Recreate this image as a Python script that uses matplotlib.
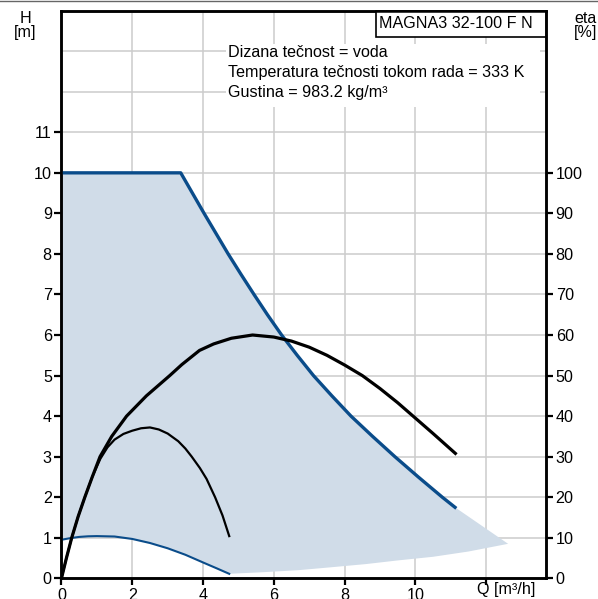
import matplotlib
matplotlib.use("Agg")
import matplotlib.pyplot as plt
from matplotlib.patches import Rectangle
from matplotlib.lines import Line2D

plt.rcParams['font.family'] = ['Liberation Sans', 'DejaVu Sans']

# max speed curve H(Q)
q_max = [0, 3.37, 3.70, 4.03, 4.37, 4.71, 5.07, 5.44, 5.82, 6.22, 6.66, 7.12,
         7.64, 8.18, 8.79, 9.42, 10.08, 10.76, 11.12]
h_max = [10, 10, 9.5, 9, 8.5, 8, 7.5, 7, 6.5, 6, 5.5, 5,
         4.5, 4, 3.5, 3, 2.5, 2, 1.75]

# min speed curve H(Q)
q_min = [0, 0.25, 0.5, 0.75, 1.0, 1.5, 2.0, 2.5, 3.0, 3.5, 4.0, 4.4, 4.74]
h_min = [0.95, 0.99, 1.02, 1.035, 1.04, 1.03, 0.97, 0.87, 0.74, 0.58, 0.39, 0.24, 0.11]

# lower edge of the operating area, up to the tip
q_low = [4.74, 5.7, 6.7, 7.6, 8.6, 9.5, 10.5, 11.5, 12.62]
h_low = [0.11, 0.15, 0.2, 0.27, 0.35, 0.44, 0.53, 0.66, 0.85]

# efficiency at max speed (in H units, 1 m = 10 %)
q_eta_max = [0, 0.14, 0.29, 0.47, 0.66, 0.87, 1.09, 1.42, 1.84, 2.4, 3.06, 3.4,
             3.9, 4.3, 4.8, 5.4, 6.0, 6.5, 7.0, 7.5, 8.0, 8.5, 9.0, 9.5,
             10.0, 10.5, 11.13]
h_eta_max = [0, 0.5, 1, 1.52, 2, 2.5, 3, 3.5, 4, 4.5, 5, 5.27,
             5.62, 5.78, 5.92, 6.0, 5.95, 5.85, 5.7, 5.5, 5.26, 5.0, 4.68, 4.33,
             3.95, 3.57, 3.08]

# efficiency at min curve
q_eta_min = [0, 0.14, 0.29, 0.47, 0.66, 0.87, 1.1, 1.3, 1.5, 1.75, 2.0, 2.25,
             2.5, 2.75, 3.0, 3.3, 3.5, 3.68, 3.91, 4.1, 4.34, 4.55, 4.74]
h_eta_min = [0, 0.5, 1, 1.52, 2, 2.5, 2.95, 3.23, 3.42, 3.56, 3.64, 3.70,
             3.72, 3.67, 3.57, 3.38, 3.2, 3.0, 2.72, 2.45, 2.0, 1.55, 1.04]

x_ticks = [0, 2, 4, 6, 8, 10, 12]
x_labels = ['0', '2', '4', '6', '8', '10', '']
h_ticks = list(range(0, 12))
eta_ticks = list(range(0, 101, 10))

info = ['Dizana tečnost = voda',
        'Temperatura tečnosti tokom rada = 333 K',
        'Gustina = 983.2 kg/m³']
pump = 'MAGNA3 32-100 F N'

blue = '#0a4c8a'
fill_c = '#d0dce8'
fs = 11.6

fig = plt.figure(figsize=(5.98, 5.99), dpi=100)
ax = fig.add_axes([0.1028, 0.0346, 0.8102, 0.9476])
ax.set_xlim(0, 13.69)
ax.set_ylim(0, 14)

# operating area
q_fill = q_max + q_low[::-1] + q_min[::-1]
h_fill = h_max + h_low[::-1] + h_min[::-1]
ax.fill(q_fill, h_fill, color=fill_c, lw=0, zorder=1)

ax.plot(q_max, h_max, color=blue, lw=2.4, zorder=3, solid_joinstyle='round')
ax.plot(q_min, h_min, color=blue, lw=1.5, zorder=3)
ax.plot(q_eta_max, h_eta_max, color='black', lw=2.3, zorder=4,
        solid_joinstyle='round')
ax.plot(q_eta_min, h_eta_min, color='black', lw=1.6, zorder=4,
        solid_joinstyle='round')

ax.set_axisbelow(True)
ax.set_xticks(x_ticks)
ax.set_xticklabels(x_labels)
ax.set_yticks(h_ticks)
ax.set_yticks([12, 13], minor=True)
ax.grid(True, which='both', color='#cccccc', lw=1.1)
ax.tick_params(which='major', direction='out', length=5, width=1.6,
               labelsize=fs, pad=2)
ax.tick_params(which='minor', length=0)
for s in ax.spines.values():
    s.set_linewidth(1.8)

ax2 = ax.twinx()
ax2.set_ylim(0, 140)
ax2.set_yticks(eta_ticks)
ax2.tick_params(direction='out', length=5, width=1.6, labelsize=fs, pad=2)
for s in ax2.spines.values():
    s.set_linewidth(1.8)

ax.annotate('Q [m³/h]', xy=(12, 0), xycoords=('data', 'axes fraction'),
            xytext=(-9, -4), textcoords='offset pixels',
            ha='left', va='top', fontsize=fs)

# white panel behind the medium info
ax.add_patch(Rectangle((0.340, 0.831), 0.648, 0.111, transform=ax.transAxes,
                       fc='white', ec='none', zorder=1.5))
for i, line in enumerate(info):
    ax.text(0.3436, 0.9262 - i * 0.0352, line, transform=ax.transAxes,
            ha='left', va='center', fontsize=fs, zorder=5)

# pump name box
ax.add_patch(Rectangle((0.649, 0.9537), 0.351, 0.0463, transform=ax.transAxes,
                       fc='white', ec='black', lw=1.2, zorder=5, clip_on=False))
ax.text(0.655, 0.977, pump, transform=ax.transAxes, ha='left', va='center',
        fontsize=fs, zorder=6)

fig.text(25.5 / 598, 1 - 11 / 599, 'H\n[m]', ha='center', va='top',
         fontsize=fs, linespacing=0.95)
fig.text(574 / 598, 1 - 11 / 599, 'eta\n[%]', ha='left', va='top',
         fontsize=fs, linespacing=0.95)

fig.add_artist(Line2D([0, 1], [0.999, 0.999], transform=fig.transFigure,
                      color='#666666', lw=1))

fig.savefig('out.png', dpi=100)
